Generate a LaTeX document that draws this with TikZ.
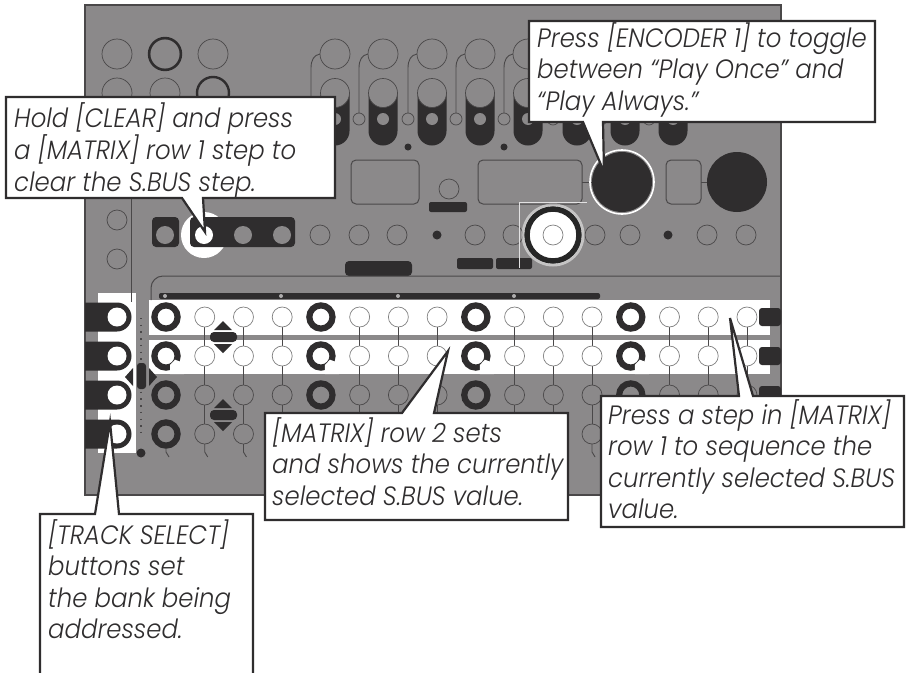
\documentclass[tikz,border=0pt]{standalone}
\usepackage{fontspec}
\setmainfont{Poppins Light}[ItalicFont={Poppins Light Italic},ItalicFeatures={FakeStretch=0.92}]
\definecolor{panelgrey}{HTML}{8B898A}
\definecolor{darkpart}{HTML}{2F2D2E}
\definecolor{edgeline}{HTML}{4A4849}
\begin{document}
\begin{tikzpicture}[x=1pt,y=-1pt,
  thinring/.style={draw=edgeline,line width=0.7pt},
  litring/.style={draw=gray,fill=white,line width=0.7pt},
  thickring/.style={draw=darkpart,line width=6.2pt},
  wire/.style={draw=edgeline,line width=0.9pt},
  calloutbox/.style={draw=darkpart,fill=white,line width=2.2pt,line join=miter},
  callouttext/.style={anchor=north west,inner sep=0pt,align=left,text=darkpart,
    font=\fontsize{26.5}{31.5}\selectfont\itshape}]
\useasboundingbox (0,0) rectangle (909,672);
\fill[white] (0,0) rectangle (909,672);

% panel and lit areas
\draw[fill=panelgrey,draw=edgeline,line width=1.5pt] (85,5) rectangle (781,495);
\fill[white] (98,293) rectangle (136,453);
\fill[white] (149,300) rectangle (770,335);
\fill[white] (149,340) rectangle (770,374);

% top left circles
\foreach \x in {117,165,213} \draw[thinring] (\x,54) circle (15pt);
\foreach \x in {117,165} \draw[thinring] (\x,93) circle (15pt);
\draw[draw=darkpart,line width=2.4pt] (165,54) circle (16pt);
\draw[draw=darkpart,line width=2.4pt] (213,93) circle (16pt);

% knob columns
\foreach \x in {335,383,432,480,528,577,625,673} {
  \fill[darkpart] (\x-14.5,93) -- (\x+14.5,93) -- (\x+14.5,131) arc[start angle=0,end angle=-180,radius=14.5pt] -- cycle;
  \draw[thinring,fill=panelgrey] (\x,93) circle (14.5pt);
  \fill[panelgrey] (\x,119) circle (6pt);
  \draw[thinring] (\x,54) circle (15pt);
  \draw[thinring,fill=panelgrey] (\x-24,119) circle (6pt);
  \draw[wire] (\x-24,113) -- (\x-24,68) .. controls (\x-24,60) and (\x-21,55) .. (\x-15,54);
}
\fill[darkpart] (408,147) circle (3.5pt);
\fill[darkpart] (504,147) circle (3.5pt);

% displays and encoders
\draw[thinring,line width=1pt,rounded corners=5pt] (351,160) rectangle (419,204);
\draw[thinring,line width=1pt,rounded corners=5pt] (478,160) rectangle (582,204);
\draw[thinring,line width=1pt,rounded corners=5pt] (666,160) rectangle (701,204);
\draw[wire] (582,182) -- (592,182);
\draw[wire] (701,182) -- (707,182);
\draw[thinring] (449,189) circle (10pt);
\fill[darkpart,rounded corners=2pt] (429,202) rectangle (467,212);
\fill[darkpart] (622,182) circle (30pt);
\draw[white,line width=1.6pt] (622,182) circle (32pt);
\fill[darkpart] (737,182) circle (30pt);

% button row
\fill[white] (204,235) circle (23pt);
\fill[darkpart,rounded corners=4pt] (152,217) rectangle (179,247);
\fill[darkpart,rounded corners=4pt] (190,217) rectangle (295,247);
\foreach \x in {165,243,282} \fill[panelgrey] (\x,235) circle (9pt);
\fill[white] (204,235) circle (9pt);
\foreach \x in {320,359,397,475,513,595,630,707,746} \draw[thinring] (\x,235) circle (10pt);
\fill[darkpart] (437,235) circle (4.5pt);
\fill[darkpart] (668,235) circle (4.5pt);
\fill[darkpart,rounded corners=2pt] (457,258) rectangle (493,269);
\fill[darkpart,rounded corners=2pt] (496,258) rectangle (532,269);
\draw[white!75!panelgrey,line width=0.6pt] (587,202) -- (519,202) -- (519,268);
\fill[white,opacity=0.5] (553,235) circle (31.5pt);
\fill[white] (553,235) circle (29pt);
\draw[draw=black!85,line width=5.5pt] (553,235) circle (26pt);
\draw[litring] (553,235) circle (10pt);

% left side and divider
\foreach \y in {220,259} \draw[thinring] (117,\y) circle (10pt);
\draw[wire] (131,199) -- (131,302);
\fill[darkpart,rounded corners=4pt] (345,276) -- (345,261) -- (412,261) -- (412,276) -- cycle;
\draw[wire,line width=1pt] (151,300) -- (151,288) arc[start angle=180,end angle=90,radius=12pt] -- (781,276);
\fill[darkpart,rounded corners=2pt] (159,293) rectangle (600,299);
\foreach \x in {165,281,398,514} \fill[panelgrey!70!white] (\x,296) circle (2pt);

% track select buttons
\foreach \y in {317,356,395,434} {
  \fill[darkpart] (85,\y-14.5) -- (117,\y-14.5) arc[start angle=90,end angle=-90,radius=14.5pt] -- (85,\y+14.5) -- cycle;
  \fill[white] (117,\y) circle (9.5pt);
}
\draw[edgeline,line width=1.4pt,dash pattern=on 1.4pt off 5.3pt] (141,318) -- (141,434);
\fill[darkpart] (141,453) circle (4.5pt);
\fill[darkpart,rounded corners=3pt] (137,363) rectangle (146,389);
\fill[darkpart] (133,368) -- (133,386) -- (125,377) -- cycle;
\fill[darkpart] (149,368) -- (149,386) -- (157,377) -- cycle;

% matrix
\foreach \c in {0,...,15} {
  \pgfmathsetmacro{\x}{166+38.73*\c}
  \pgfmathtruncatemacro{\big}{mod(\c,4)==0}
  \ifnum\big=1
    \draw[thickring] (\x,317) circle (11.6pt);
    \draw[thickring] (\x,356) circle (11.6pt);
    \fill[white] (\x+4,365) -- (\x+4,374) -- (\x+18,374) -- (\x+18,363) -- (\x+9,359.7) -- cycle;
    \draw[thickring] (\x,395) circle (11.6pt);
    \draw[thickring] (\x,434) circle (11.6pt);
  \else
    \draw[wire] (\x,327) -- (\x,346);
    \draw[wire] (\x,366) -- (\x,385);
    \draw[wire] (\x,405) -- (\x,424);
    \draw[litring] (\x,317) circle (10pt);
    \draw[litring] (\x,356) circle (10pt);
    \draw[thinring] (\x,395) circle (10pt);
    \draw[thinring] (\x,434) circle (10pt);
  \fi
  \draw[wire] (\x,\ifnum\big=1 449\else 444\fi) -- (\x,452) -- (\x+3,457);
}

% right tabs
\foreach \y in {317,356,395}
  \fill[darkpart,rounded corners=3pt] (781,\y-9) -- (759,\y-9) -- (759,\y+9) -- (781,\y+9) -- cycle;

% arrows
\foreach \y in {337,415} {
  \fill[darkpart,rounded corners=4pt] (210,\y-5) rectangle (237,\y+5);
  \fill[darkpart] (214,\y-7) -- (232,\y-7) -- (223,\y-16) -- cycle;
  \fill[darkpart] (214,\y+7) -- (232,\y+7) -- (223,\y+16) -- cycle;
}

% callouts
\draw[calloutbox] (6,97) -- (335,97) -- (335,198) -- (203,198) -- (205,232) -- (182,198) -- (6,198) -- cycle;
\node[callouttext] (holdclear) at (14,102) {Hold [CLEAR] and press\\a [MATRIX] row 1 step to\\clear the S.BUS step.};
\draw[calloutbox] (529,21) -- (875,21) -- (875,122) -- (603,122) -- (604,172) -- (583,122) -- (529,122) -- cycle;
\node[callouttext] (encoderone) at (537,22) {Press [ENCODER 1] to toggle\\between “Play Once” and\\“Play Always.”};
\draw[calloutbox] (40,514) -- (95,514) -- (110,422) -- (119,514) -- (253,514) -- (253,680) -- (40,680) -- cycle;
\node[callouttext] (trackselect) at (48,519) {[TRACK SELECT]\\buttons set\\the bank being\\addressed.};
\draw[calloutbox] (265,413) -- (402,413) -- (448,351) -- (434,413) -- (568,413) -- (568,520) -- (265,520) -- cycle;
\node[callouttext] (matrixtwo) at (272,417) {[MATRIX] row 2 sets\\and shows the currently\\selected S.BUS value.};
\draw[calloutbox] (601,396) -- (739,396) -- (730,318) -- (753,396) -- (904,396) -- (904,527) -- (601,527) -- cycle;
\node[callouttext] (matrixone) at (608,399) {Press a step in [MATRIX]\\row 1 to sequence the\\currently selected S.BUS\\value.};
\end{tikzpicture}
\end{document}
